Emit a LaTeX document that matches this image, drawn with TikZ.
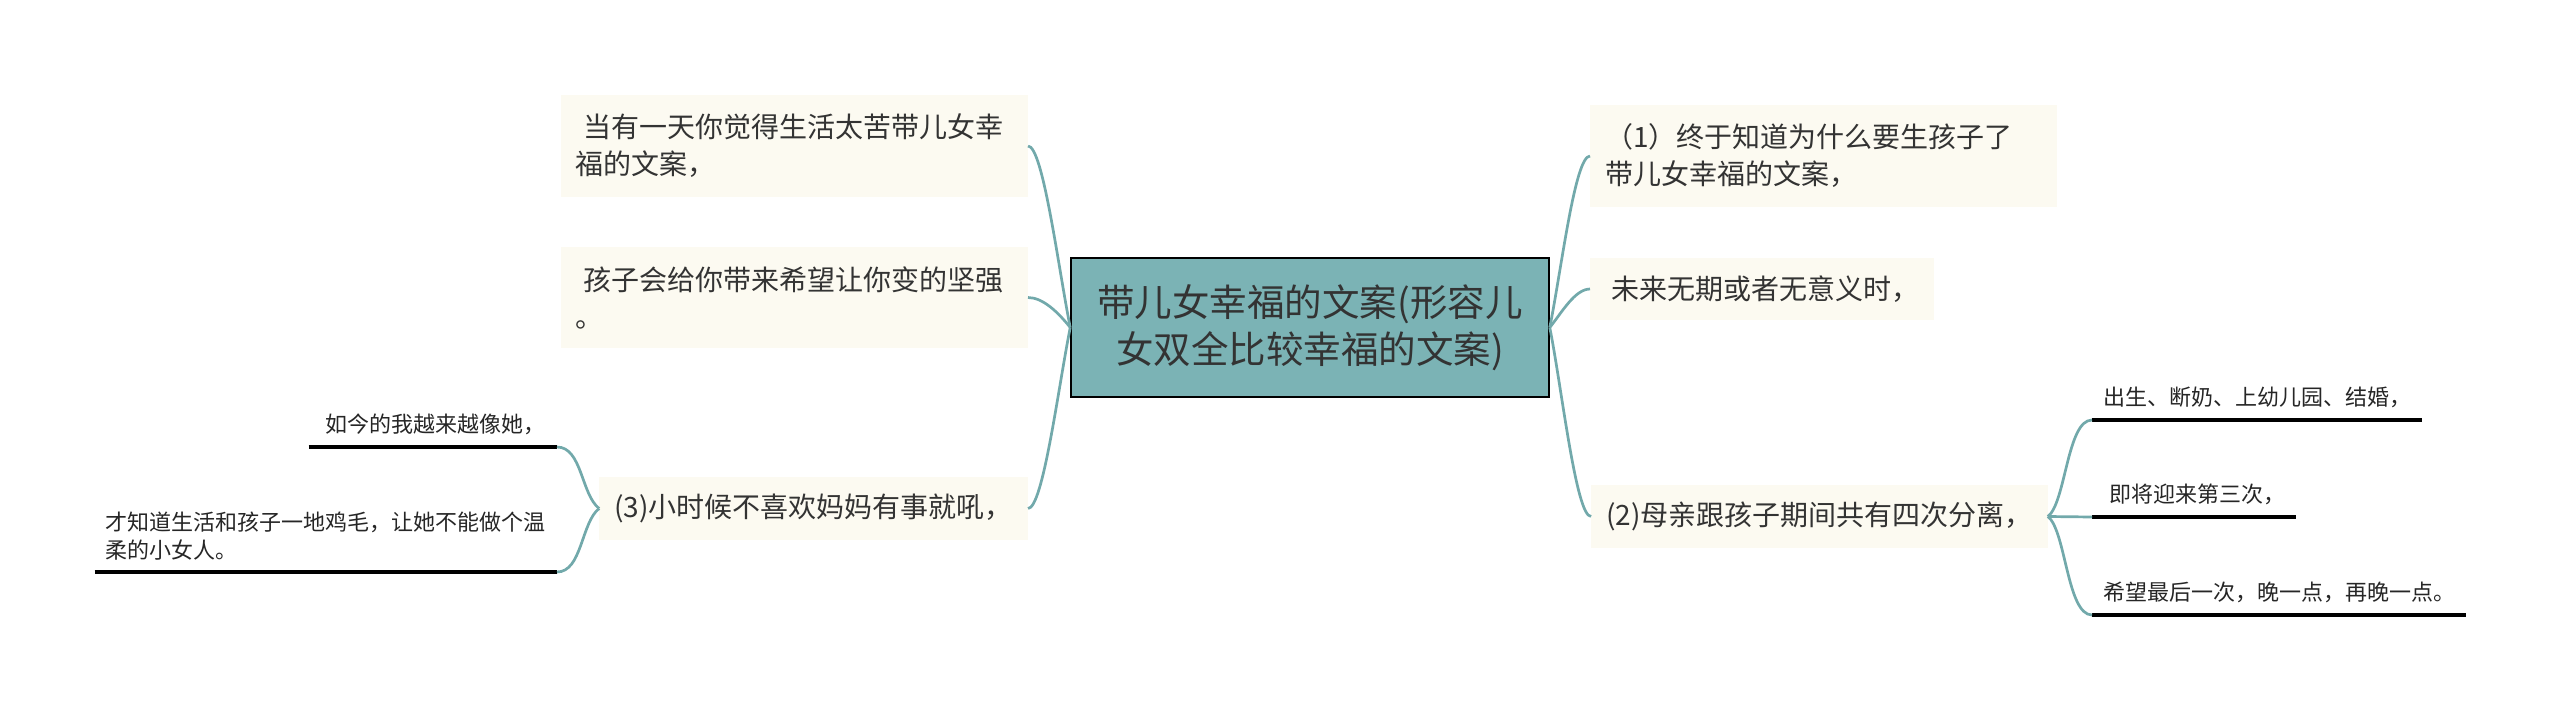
\documentclass[tikz,border=0pt]{standalone}
\usepackage{fontspec}
\setmainfont{Noto Sans CJK SC}
\usepackage{tikz}

\definecolor{branch}{HTML}{72A9AB}
\definecolor{rootfill}{HTML}{7BB3B5}
\definecolor{topicfill}{HTML}{FCFAF1}
\definecolor{txt}{HTML}{333333}

\begin{document}
\begin{tikzpicture}[x=1pt,y=-1pt,
	root/.style={rectangle, draw=black, line width=1.5pt, fill=rootfill, text=txt, minimum width=478pt, minimum height=139pt, align=center, font=\fontsize{37.5}{47}\selectfont},
	topic/.style={rectangle, fill=topicfill, text=txt, inner xsep=15pt, inner ysep=14pt, align=left, font=\fontsize{28}{37}\selectfont},
	leaf/.style={rectangle, inner xsep=11pt, inner ysep=12pt, align=left, text=black!85, font=\fontsize{22}{28}\selectfont},
	link/.style={draw=branch, line width=2.7pt},
	uline/.style={draw=black, line width=3.2pt}]

\useasboundingbox (0,0) rectangle (2560,709);

\node[root] (root) at (1310,327.5) {带儿女幸福的文案(形容儿\\女双全比较幸福的文案)};

\node[topic, anchor=east, text width=437pt, minimum height=102pt] (L1) at (1028,146) {\hspace*{8pt}当有一天你觉得生活太苦带儿女幸\\福的文案，};
\node[topic, anchor=east, text width=437pt, minimum height=101pt] (L2) at (1028,297.5) {\hspace*{8pt}孩子会给你带来希望让你变的坚强\\。};
\node[topic, anchor=east, minimum height=63pt] (L3) at (1028,508.5) {(3)小时候不喜欢妈妈有事就吼，};
	\node[leaf, anchor=south east] (k1) at (557,447) {\hspace*{6pt}如今的我越来越像她，};
	\node[leaf, anchor=south east] (k2) at (557,572) {才知道生活和孩子一地鸡毛，让她不能做个温\\柔的小女人。};

\node[topic, anchor=west, text width=437pt, minimum height=102pt] (R1) at (1590,156) {（1）终于知道为什么要生孩子了\\带儿女幸福的文案，};
\node[topic, anchor=west, minimum height=62pt] (R2) at (1590,289) {\hspace*{6pt}未来无期或者无意义时，};
\node[topic, anchor=west, minimum height=63pt] (R3) at (1591,516.5) {(2)母亲跟孩子期间共有四次分离，};
	\node[leaf, anchor=south west] (m1) at (2092,420) {出生、断奶、上幼儿园、结婚，};
	\node[leaf, anchor=south west] (m2) at (2092,517) {\hspace*{6pt}即将迎来第三次，};
	\node[leaf, anchor=south west] (m3) at (2092,615) {希望最后一次，晚一点，再晚一点。};

% underlines of the small items
\foreach \n in {k1,k2,m1,m2,m3}
	\draw[uline] (\n.south west) -- (\n.south east);

\draw[link] (root.west) .. controls +(-12,-60) and +(15,0) .. (L1.east);
\draw[link] (root.west) .. controls +(-12,-15) and +(15,0) .. (L2.east);
\draw[link] (root.west) .. controls +(-12,60) and +(15,0) .. (L3.east);
\draw[link] (root.east) .. controls +(12,-60) and +(-15,0) .. (R1.west);
\draw[link] (root.east) .. controls +(12,-15) and +(-15,0) .. (R2.west);
\draw[link] (root.east) .. controls +(12,60) and +(-15,0) .. (R3.west);

\draw[link] (L3.west) .. controls +(-18,-14) and +(25,0) .. (k1.south east);
\draw[link] (L3.west) .. controls +(-18,14) and +(25,0) .. (k2.south east);
\draw[link] (R3.east) .. controls +(18,-14) and +(-25,0) .. (m1.south west);
\draw[link] (R3.east) -- (m2.south west);
\draw[link] (R3.east) .. controls +(18,14) and +(-25,0) .. (m3.south west);

\end{tikzpicture}
\end{document}
